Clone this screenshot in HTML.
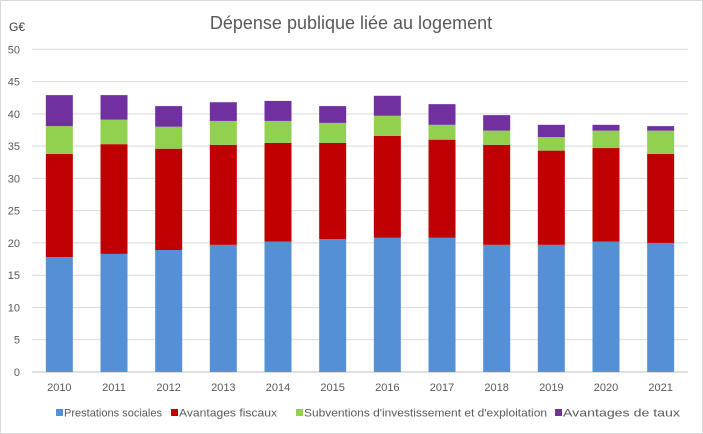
<!DOCTYPE html>
<html><head><meta charset="utf-8"><style>
body{margin:0;background:#fff;}
svg{display:block;font-family:"Liberation Sans",sans-serif;}
</style></head><body>
<svg id="c" width="703" height="434">
<rect x="0.5" y="0.5" width="702" height="433" fill="#fff" stroke="#d9d9d9"/>
<text x="351" y="29" text-anchor="middle" font-size="18" fill="#595959">Dépense publique liée au logement</text>
<text x="9" y="31" font-size="12" fill="#404040">G€</text>
<g id="grid"></g><g id="bars"></g><g id="xl"></g><g id="legend"></g>
</svg>
<script>
const years=["2010","2011","2012","2013","2014","2015","2016","2017","2018","2019","2020","2021"];
const prestations=[17.8,18.3,18.9,19.7,20.2,20.6,20.8,20.8,19.7,19.7,20.2,20.0];
const avantagesFiscaux=[16.0,17.0,15.7,15.5,15.3,14.9,15.8,15.2,15.5,14.6,14.5,13.8];
const subventions=[4.3,3.8,3.4,3.7,3.4,3.1,3.1,2.3,2.2,2.1,2.7,3.6];
const avantagesTaux=[4.8,3.8,3.2,2.9,3.1,2.6,3.1,3.2,2.4,1.9,0.9,0.7];
const yTicks=[0,5,10,15,20,25,30,35,40,45,50];
const seriesNames=["Prestations sociales","Avantages fiscaux","Subventions d'investissement et d'exploitation","Avantages de taux"];
const colors=["#5590d6","#c00000","#92d050","#7030a0"];
const NS="http://www.w3.org/2000/svg";
const L=32,R=688,T=49.3,B=372,YMAX=50;
const y=v=>B-(v/YMAX)*(B-T);
const step=(R-L)/years.length;
const xc=i=>L+step*(i+0.5);
const bw=27;
function mk(tag,at,parent){const e=document.createElementNS(NS,tag);for(const k in at)e.setAttribute(k,at[k]);parent.appendChild(e);return e;}
const grid=document.getElementById('grid');
yTicks.forEach(t=>{
 const l=mk('line',{x1:L,x2:R,y1:y(t),y2:y(t),stroke:t===0?'#bfbfbf':'#d9d9d9','stroke-width':1},grid);
 
 
 const tx=mk('text',{x:20,y:y(t)+4,'text-anchor':'end','font-size':11,fill:'#595959'},grid);
 tx.textContent=t;
 
 
});
const series=[prestations,avantagesFiscaux,subventions,avantagesTaux];
const bars=document.getElementById('bars');
years.forEach((yr,i)=>{
 let base=0;
 series.forEach((s,k)=>{
  const r=mk('rect',{x:xc(i)-bw/2,y:y(base+s[i]),width:bw,height:y(base)-y(base+s[i]),fill:colors[k]},bars);
  
  
  base+=s[i];
 });
 const t=mk('text',{x:xc(i),y:391,'text-anchor':'middle','font-size':11,fill:'#595959'},document.getElementById('xl'));
 t.textContent=yr;
 
 
});
const lg=document.getElementById('legend');
const lx=[64,179,304,563];
const lw=[98,98,243,117];
seriesNames.forEach((n,k)=>{
 const g=mk('g',{},lg);
 
 
 mk('rect',{x:lx[k]-8,y:409,width:7,height:7,fill:colors[k]},g);
 const t=mk('text',{x:lx[k],y:416.5,'font-size':11,fill:'#595959',textLength:lw[k],lengthAdjust:'spacingAndGlyphs'},g);
 t.textContent=n;
});
</script>
</body></html>
